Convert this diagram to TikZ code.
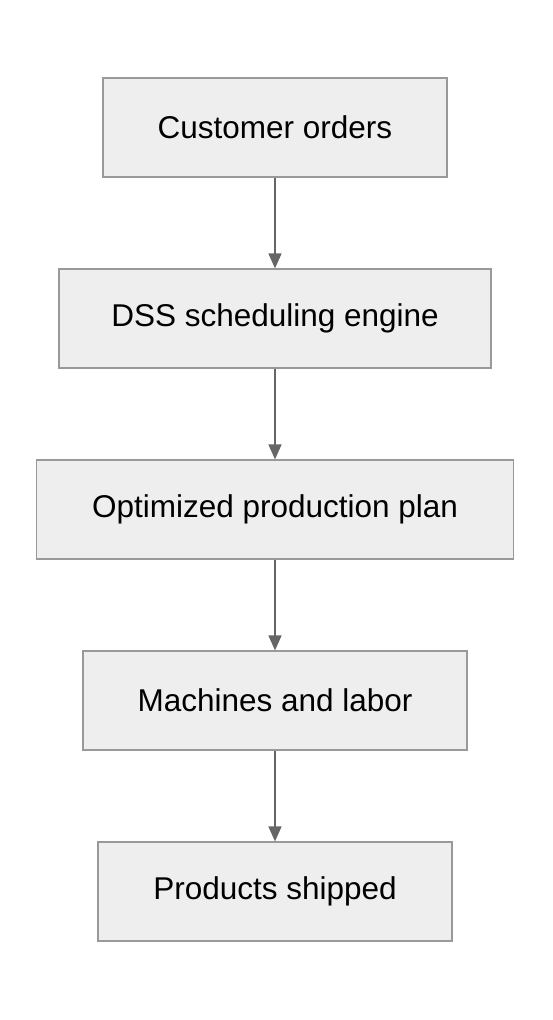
\documentclass[tikz,border=0pt]{standalone}
\usepackage{fontspec}
\setmainfont{Liberation Sans}
\usepackage{tikz}
\usetikzlibrary{arrows.meta}

\begin{document}
\begin{tikzpicture}[x=1pt,y=-1pt,
    flowbox/.style={draw=boxline,fill=boxfill,line width=1.2pt,inner sep=0pt,
        minimum height=99pt,font=\fontsize{31.5}{38}\selectfont,text=black},
    flowarrow/.style={draw=arrowgray,line width=1.5pt,-{Triangle[length=15pt,width=13pt]}}]

                            \definecolor{boxfill}{rgb}{0.933,0.933,0.933}
                            \definecolor{boxline}{rgb}{0.6,0.6,0.6}
                            \definecolor{arrowgray}{rgb}{0.4,0.4,0.4}
                            \useasboundingbox (0,0) rectangle (552,1020);
                            \node[flowbox,minimum width=344pt] (orders) at (275,127.5) {Customer orders};
                            \node[flowbox,minimum width=432pt] (engine) at (275,318.5) {DSS scheduling engine};
                            \node[flowbox,minimum width=477pt] (plan) at (275,509.5) {Optimized production plan};
                            \node[flowbox,minimum width=384pt] (machines) at (275,700.5) {Machines and labor};
                            \node[flowbox,minimum width=354pt] (shipped) at (275,891.5) {Products shipped};
                            \draw[flowarrow] (orders) -- (engine);
                            \draw[flowarrow] (engine) -- (plan);
                            \draw[flowarrow] (plan) -- (machines);
                            \draw[flowarrow] (machines) -- (shipped);
                        \end{tikzpicture}
\end{document}
